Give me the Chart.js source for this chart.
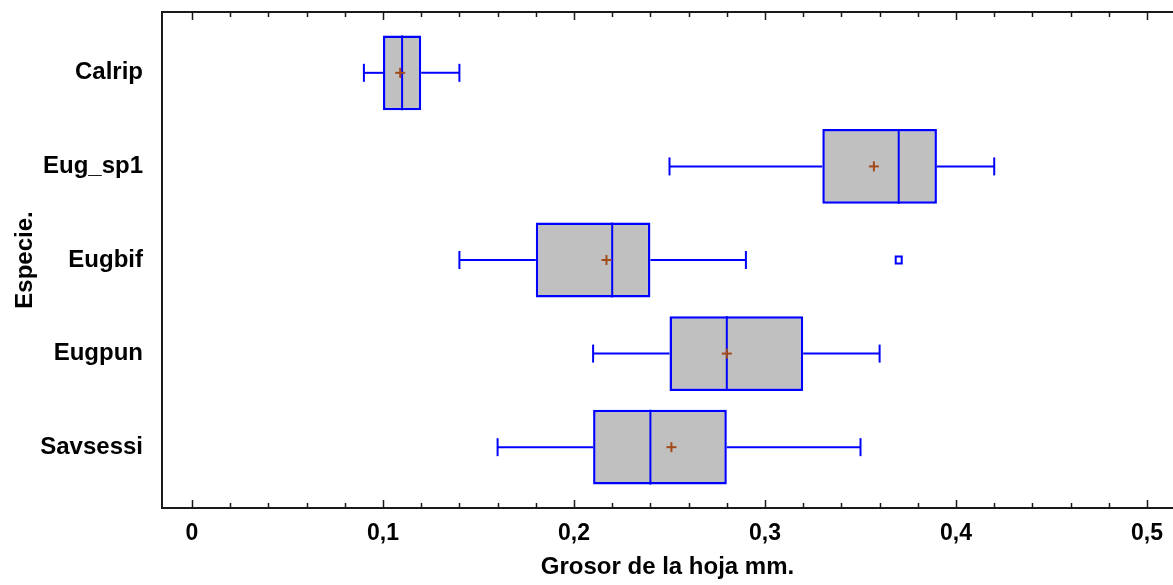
<!DOCTYPE html>
<html>
<head>
<meta charset="utf-8">
<script src="https://cdn.jsdelivr.net/npm/chart.js@4/dist/chart.umd.min.js"></script>
<style>
  html, body { margin: 0; padding: 0; background: #fff; }
</style>
</head>
<body>
<canvas id="grosor" width="1173" height="585"></canvas>
<script>
// datos
var especies = ['Calrip', 'Eug_sp1', 'Eugbif', 'Eugpun', 'Savsessi'];
var minimos  = [0.09, 0.25, 0.14, 0.21, 0.16];
var q1       = [0.10, 0.33, 0.18, 0.25, 0.21];
var medianas = [0.11, 0.37, 0.22, 0.28, 0.24];
var q3       = [0.12, 0.39, 0.24, 0.32, 0.28];
var maximos  = [0.14, 0.42, 0.29, 0.36, 0.35];
var medias   = [0.109, 0.357, 0.217, 0.28, 0.251];
var atipicos = [[], [], [0.37], [], []];
var xTicks   = [0, 0.1, 0.2, 0.3, 0.4, 0.5];
var xMinor   = 0.02;

var esMayor = function (v) {
    return Math.abs(v * 10 - Math.round(v * 10)) < 1e-6;
};

var extrasCaja = {
    id: 'extrasCaja',
    afterDatasetsDraw: function (chart) {
        var ctx = chart.ctx;
        var sx = chart.scales.x, sy = chart.scales.y;
        var meta = chart.getDatasetMeta(0);
        var area = chart.chartArea;

        var linea = function (x1, y1, x2, y2) {
            ctx.beginPath();
            ctx.moveTo(x1, y1);
            ctx.lineTo(x2, y2);
            ctx.stroke();
        };

        ctx.save();
        especies.forEach(function (e, i) {
            var cy = sy.getPixelForValue(i);
            var h = meta.data[i].height;
            ctx.strokeStyle = '#0000ff';

            // bigotes
            ctx.lineWidth = 2;
            var xmin = sx.getPixelForValue(minimos[i]);
            var xmax = sx.getPixelForValue(maximos[i]);
            linea(xmin, cy, sx.getPixelForValue(q1[i]), cy);
            linea(sx.getPixelForValue(q3[i]), cy, xmax, cy);
            linea(xmin, cy - 9, xmin, cy + 9);
            linea(xmax, cy - 9, xmax, cy + 9);

            // mediana
            linea(sx.getPixelForValue(medianas[i]), cy - h / 2, sx.getPixelForValue(medianas[i]), cy + h / 2);

            // atipicos
            atipicos[i].forEach(function (v) {
                var xo = sx.getPixelForValue(v);
                ctx.strokeRect(xo - 3, cy - 3.5, 6, 7);
            });

            // media
            var xp = sx.getPixelForValue(medias[i]);
            ctx.strokeStyle = '#a24a1a';
            linea(xp - 5, cy, xp + 5, cy);
            linea(xp, cy - 5, xp, cy + 5);
        });

        // marco y marcas
        ctx.strokeStyle = '#1a1a1a';
        ctx.lineWidth = 2;
        linea(area.left, area.top, chart.width, area.top);
        linea(area.left, area.bottom, chart.width, area.bottom);
        linea(area.left, area.top - 1, area.left, area.bottom + 1);
        ctx.lineWidth = 1.5;
        sx.ticks.forEach(function (t) {
            var px = Math.round(sx.getPixelForValue(t.value)) + 0.5;
            var len = esMayor(t.value) ? 8 : 5;
            linea(px, area.top, px, area.top + len);
            linea(px, area.bottom, px, area.bottom - len);
        });
        ctx.restore();
    }
};

new Chart('grosor', {
    type: 'bar',
    data: {
        datasets: [{
            data: especies.map(function (e, i) {
                return { y: i, x: [q1[i], q3[i]] };
            }),
            backgroundColor: '#c0c0c0',
            borderColor: '#0000ff',
            borderWidth: 2.5,
            borderSkipped: false,
            barPercentage: 0.8,
            categoryPercentage: 1
        }]
    },
    options: {
        indexAxis: 'y',
        responsive: false,
        animation: false,
        layout: { padding: { top: 12, left: 0, right: 0, bottom: 0 } },
        plugins: {
            legend: { display: false },
            tooltip: { enabled: false }
        },
        scales: {
            x: {
                type: 'linear',
                position: 'bottom',
                min: -0.0157,
                max: 0.5136,
                grid: { display: false, drawTicks: false },
                border: { display: false },
                afterBuildTicks: function (s) {
                    var n = Math.round(xTicks[xTicks.length - 1] / xMinor);
                    var t = [];
                    for (var k = 0; k <= n; k++) t.push({ value: Math.round(k * xMinor * 100) / 100 });
                    s.ticks = t;
                },
                afterFit: function (s) {
                    s.height = 77;
                    s.paddingLeft = 0;
                    s.paddingRight = 0;
                },
                ticks: {
                    autoSkip: false,
                    maxRotation: 0,
                    padding: 12,
                    color: '#000',
                    font: { family: 'Liberation Sans', size: 23, weight: 'bold' },
                    callback: function (v) {
                        if (!esMayor(v)) return '';
                        return v === 0 ? '0' : v.toFixed(1).replace('.', ',');
                    }
                },
                title: {
                    display: true,
                    text: 'Grosor de la hoja mm.',
                    color: '#000',
                    padding: { top: 0, bottom: 3 },
                    font: { family: 'Liberation Sans', size: 24, weight: 'bold' }
                }
            },
            y: {
                type: 'linear',
                min: -0.65,
                max: 4.65,
                reverse: true,
                offset: false,
                grid: { display: false, drawTicks: false, offset: false },
                border: { display: false },
                afterBuildTicks: function (s) {
                    s.ticks = especies.map(function (e, i) { return { value: i }; });
                },
                afterFit: function (s) {
                    s.width = 162;
                    s.paddingTop = 0;
                    s.paddingBottom = 0;
                },
                ticks: {
                    padding: 19,
                    color: '#000',
                    font: { family: 'Liberation Sans', size: 24, weight: 'bold' },
                    callback: function (v) { return especies[v]; }
                },
                title: {
                    display: true,
                    text: 'Especie.',
                    color: '#000',
                    padding: { top: 11, bottom: 0 },
                    font: { family: 'Liberation Sans', size: 24, weight: 'bold' }
                }
            }
        }
    },
    plugins: [extrasCaja]
});
</script>
</body>
</html>
